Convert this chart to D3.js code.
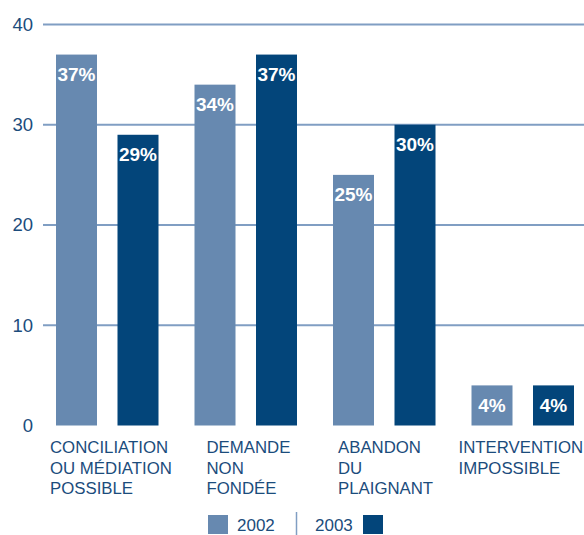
<!DOCTYPE html>
<html>
<head>
<meta charset="utf-8">
<script src="https://cdn.jsdelivr.net/npm/d3@7"></script>
<style>
  html, body { margin: 0; padding: 0; background: #fff; }
  svg { display: block; font-family: "Liberation Sans", Arial, sans-serif; }
</style>
</head>
<body>
<svg id="chart" width="584" height="535"></svg>
<script>
// Categories (each label split over lines) and yearly shares in %
const categories = ["conciliation", "demande", "abandon", "intervention"];
const categoryLines = [
  ["CONCILIATION", "OU MÉDIATION", "POSSIBLE"],
  ["DEMANDE", "NON", "FONDÉE"],
  ["ABANDON", "DU", "PLAIGNANT"],
  ["INTERVENTION", "IMPOSSIBLE"]
];
const years = ["2002", "2003"];
const values2002 = [37, 34, 25, 4];
const values2003 = [29, 37, 30, 4];
const yTicks = [0, 10, 20, 30, 40];

const colors = { "2002": "#6789b0", "2003": "#03457a" };
const textColor = "#1b4c7c";
const gridColor = "#809ec3";

const svg = d3.select("#chart");

const y = d3.scaleLinear().domain([0, 40]).range([425.5, 24.5]);
const x0 = d3.scaleBand().domain(categories).range([56, 610]);
const x1 = d3.scaleBand().domain(years).range([0, 102.5]).paddingInner(1 / 3);

// Horizontal grid lines (none at zero)
svg.append("g")
  .selectAll("line")
  .data(yTicks.filter(t => t > 0))
  .join("line")
  .attr("x1", 43).attr("x2", 584)
  .attr("y1", d => y(d)).attr("y2", d => y(d))
  .attr("stroke", gridColor)
  .attr("stroke-width", 2);

// Y tick labels
svg.append("g")
  .selectAll("text")
  .data(yTicks)
  .join("text")
  .attr("x", 33)
  .attr("y", d => y(d))
  .attr("dy", "0.35em")
  .attr("text-anchor", "end")
  .attr("font-size", 18.5)
  .attr("fill", textColor)
  .text(d => d);

// Bars
const rows = categories.map((c, i) => ({
  cat: c,
  items: [
    { year: "2002", value: values2002[i] },
    { year: "2003", value: values2003[i] }
  ]
}));

const groups = svg.append("g")
  .selectAll("g")
  .data(rows)
  .join("g")
  .attr("transform", d => `translate(${x0(d.cat)},0)`);

groups.selectAll("rect")
  .data(d => d.items)
  .join("rect")
  .attr("x", d => x1(d.year))
  .attr("y", d => y(d.value))
  .attr("width", x1.bandwidth())
  .attr("height", d => y(0) - y(d.value))
  .attr("fill", d => colors[d.year]);

groups.selectAll("text")
  .data(d => d.items)
  .join("text")
  .attr("x", d => x1(d.year) + x1.bandwidth() / 2)
  .attr("y", d => y(d.value) + 26.5)
  .attr("text-anchor", "middle")
  .attr("font-size", 19)
  .attr("font-weight", "bold")
  .attr("fill", "#fff")
  .text(d => d.value + "%");

// Category labels under each group
const labelShift = [-6, 12, 5, -13];
const labels = svg.append("g")
  .selectAll("text")
  .data(categories)
  .join("text")
  .attr("x", (d, i) => x0(d) + labelShift[i])
  .attr("y", 453)
  .attr("font-size", 16.8)
  .attr("fill", textColor);

labels.selectAll("tspan")
  .data((d, i) => categoryLines[i].map(line => ({ line, x: x0(d) + labelShift[i] })))
  .join("tspan")
  .attr("x", d => d.x)
  .attr("dy", (d, j) => j === 0 ? 0 : 20.5)
  .text(d => d.line);

// Legend
const legend = svg.append("g");
legend.append("rect").attr("x", 208).attr("y", 515).attr("width", 20).attr("height", 19).attr("fill", colors["2002"]);
legend.append("text").attr("x", 237).attr("y", 531).attr("font-size", 17).attr("fill", textColor).text(years[0]);
legend.append("line").attr("x1", 296.5).attr("x2", 296.5).attr("y1", 512).attr("y2", 535)
  .attr("stroke", gridColor).attr("stroke-width", 1.5);
legend.append("text").attr("x", 315).attr("y", 531).attr("font-size", 17).attr("fill", textColor).text(years[1]);
legend.append("rect").attr("x", 363).attr("y", 515).attr("width", 20).attr("height", 19).attr("fill", colors["2003"]);
</script>
</body>
</html>
